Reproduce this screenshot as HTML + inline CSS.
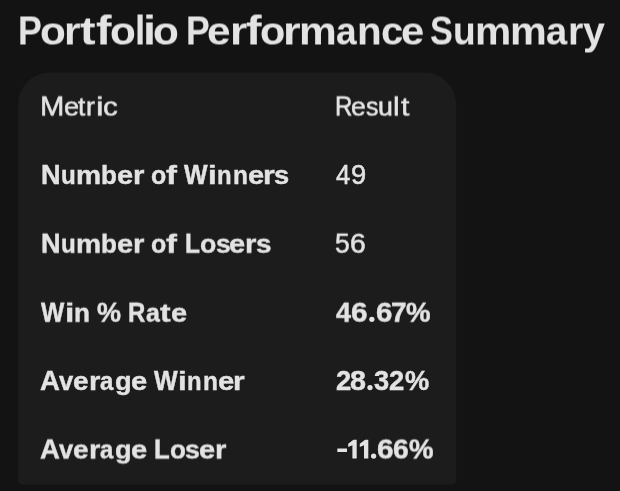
<!DOCTYPE html>
<html><head><meta charset="utf-8"><style>
html,body{margin:0;padding:0}
body{width:620px;height:491px;background:#131313;overflow:hidden;position:relative;font-family:"Liberation Sans",sans-serif;color:#e3e3e3}
.tbl{position:absolute;left:0;top:0}
.w{position:absolute;white-space:nowrap;line-height:1;color:#e3e3e3}
.L{position:absolute;left:0;top:0;width:620px;height:491px;will-change:transform}
.b{font-weight:bold}
</style></head><body>
<svg class="tbl" width="620" height="491" viewBox="0 0 620 491"><path d="M50.0,72.6 H424.2 A32,32 0 0 1 456.2,104.6 V479.6 A5,5 0 0 1 451.2,484.6 H23.0 A5,5 0 0 1 18.0,479.6 V104.6 A32,32 0 0 1 50.0,72.6 Z" fill="#1c1c1c"/>
<circle cx="371.85" cy="319.30" r="2.65" fill="#e3e3e3"/>
<circle cx="370.00" cy="387.55" r="2.65" fill="#e3e3e3"/>
<circle cx="373.60" cy="456.05" r="2.65" fill="#e3e3e3"/>
<rect x="337.3" y="448.45" width="9.7" height="3.6" rx="0.4" fill="#e3e3e3"/>
<polygon points="356.70,439.70 356.70,458.50 352.40,458.50 352.40,445.30 348.20,447.00 348.20,443.70 353.50,439.70" fill="#e3e3e3"/>
<polygon points="368.30,439.70 368.30,458.50 364.00,458.50 364.00,445.30 359.80,447.00 359.80,443.70 365.10,439.70" fill="#e3e3e3"/>
</svg>
<div class="L" style="transform:translateY(0.5px) rotate(0.0001deg)">
<div class="w b" style="left:18.31px;top:11px;font-size:39px;transform:translateY(0.3px) scale(0.917,1.030);transform-origin:0 33px">P</div>
<div class="w b" style="left:39.53px;top:11px;font-size:39px;transform:translateY(0.3px) scale(1.084,1.000);transform-origin:0 33px">o</div>
<div class="w b" style="left:64.23px;top:11px;font-size:39px;transform:translateY(0.3px) scale(1.087,1.000);transform-origin:0 33px">r</div>
<div class="w b" style="left:79.75px;top:11px;font-size:39px;transform:translateY(0.3px) scale(1.200,1.000);transform-origin:0 33px">t</div>
<div class="w b" style="left:95.80px;top:11px;font-size:39px;transform:translateY(0.3px) scale(1.196,1.030);transform-origin:0 33px">f</div>
<div class="w b" style="left:109.88px;top:11px;font-size:39px;transform:translateY(0.3px) scale(1.084,1.000);transform-origin:0 33px">o</div>
<div class="w b" style="left:134.79px;top:11px;font-size:39px;transform:translateY(0.3px) scale(0.943,1.030);transform-origin:0 33px">l</div>
<div class="w b" style="left:142.66px;top:11px;font-size:39px;transform:translateY(0.3px) scale(1.200,1.030);transform-origin:0 33px">i</div>
<div class="w b" style="left:152.53px;top:11px;font-size:39px;transform:translateY(0.3px) scale(1.084,1.000);transform-origin:0 33px">o</div>
<div class="w b" style="left:185.87px;top:11px;font-size:39px;transform:translateY(0.3px) scale(0.914,1.030);transform-origin:0 33px">P</div>
<div class="w b" style="left:207.31px;top:11px;font-size:39px;transform:translateY(0.3px) scale(1.087,1.000);transform-origin:0 33px">e</div>
<div class="w b" style="left:230.19px;top:11px;font-size:39px;transform:translateY(0.3px) scale(1.132,1.000);transform-origin:0 33px">r</div>
<div class="w b" style="left:246.26px;top:11px;font-size:39px;transform:translateY(0.3px) scale(1.200,1.030);transform-origin:0 33px">f</div>
<div class="w b" style="left:260.34px;top:11px;font-size:39px;transform:translateY(0.3px) scale(1.061,1.000);transform-origin:0 33px">o</div>
<div class="w b" style="left:283.29px;top:11px;font-size:39px;transform:translateY(0.3px) scale(1.159,1.000);transform-origin:0 33px">r</div>
<div class="w b" style="left:299.25px;top:11px;font-size:39px;transform:translateY(0.3px) scale(1.089,1.000);transform-origin:0 33px">m</div>
<div class="w b" style="left:335.66px;top:11px;font-size:39px;transform:translateY(0.3px) scale(0.953,1.000);transform-origin:0 33px">a</div>
<div class="w b" style="left:357.05px;top:11px;font-size:39px;transform:translateY(0.3px) scale(1.036,1.000);transform-origin:0 33px">n</div>
<div class="w b" style="left:380.83px;top:11px;font-size:39px;transform:translateY(0.3px) scale(1.026,1.000);transform-origin:0 33px">c</div>
<div class="w b" style="left:400.50px;top:11px;font-size:39px;transform:translateY(0.3px) scale(1.070,1.000);transform-origin:0 33px">e</div>
<div class="w b" style="left:429.94px;top:11px;font-size:39px;transform:translateY(0.3px) scale(0.879,1.030);transform-origin:0 33px">S</div>
<div class="w b" style="left:453.20px;top:11px;font-size:39px;transform:translateY(0.3px) scale(0.953,1.000);transform-origin:0 33px">u</div>
<div class="w b" style="left:474.53px;top:11px;font-size:39px;transform:translateY(0.3px) scale(1.044,1.000);transform-origin:0 33px">m</div>
<div class="w b" style="left:510.29px;top:11px;font-size:39px;transform:translateY(0.3px) scale(1.061,1.000);transform-origin:0 33px">m</div>
<div class="w b" style="left:545.92px;top:11px;font-size:39px;transform:translateY(0.3px) scale(0.977,1.000);transform-origin:0 33px">a</div>
<div class="w b" style="left:568.35px;top:11px;font-size:39px;transform:translateY(0.3px) scale(1.008,1.000);transform-origin:0 33px">r</div>
<div class="w b" style="left:582.68px;top:11px;font-size:39px;transform:translateY(0.3px) scale(1.010,1.000);transform-origin:0 33px">y</div>
</div>
<div class="L" style="transform:translateY(-0.5px) rotate(0.0001deg)">
<div class="w" style="left:39.80px;top:94px;font-size:26px;-webkit-text-stroke:0.5px #e3e3e3;transform:translateY(0px) scale(1.124,1.055);transform-origin:0 22px">M</div>
<div class="w" style="left:63.85px;top:94px;font-size:26px;-webkit-text-stroke:0.5px #e3e3e3;transform:translateY(0px) scale(1.042,1.000);transform-origin:0 22px">e</div>
<div class="w" style="left:78.12px;top:94px;font-size:26px;-webkit-text-stroke:0.5px #e3e3e3;transform:translateY(0px) scale(1.005,1.000);transform-origin:0 22px">t</div>
<div class="w" style="left:86.25px;top:94px;font-size:26px;-webkit-text-stroke:0.5px #e3e3e3;transform:translateY(0px) scale(1.026,1.000);transform-origin:0 22px">r</div>
<div class="w" style="left:95.91px;top:94px;font-size:26px;-webkit-text-stroke:0.5px #e3e3e3;transform:translateY(0px) scale(1.300,1.000);transform-origin:0 22px">i</div>
<div class="w" style="left:103.24px;top:94px;font-size:26px;-webkit-text-stroke:0.5px #e3e3e3;transform:translateY(0px) scale(1.137,1.000);transform-origin:0 22px">c</div>
<div class="w" style="left:335.37px;top:94px;font-size:26px;-webkit-text-stroke:0.5px #e3e3e3;transform:translateY(0px) scale(0.925,1.055);transform-origin:0 22px">R</div>
<div class="w" style="left:350.94px;top:94px;font-size:26px;-webkit-text-stroke:0.5px #e3e3e3;transform:translateY(0px) scale(1.019,1.000);transform-origin:0 22px">e</div>
<div class="w" style="left:366.03px;top:94px;font-size:26px;-webkit-text-stroke:0.5px #e3e3e3;transform:translateY(0px) scale(0.953,1.000);transform-origin:0 22px">s</div>
<div class="w" style="left:377.75px;top:94px;font-size:26px;-webkit-text-stroke:0.5px #e3e3e3;transform:translateY(0px) scale(1.029,1.000);transform-origin:0 22px">u</div>
<div class="w" style="left:393.38px;top:94px;font-size:26px;-webkit-text-stroke:0.5px #e3e3e3;transform:translateY(0px) scale(1.156,1.000);transform-origin:0 22px">l</div>
<div class="w" style="left:400.53px;top:94px;font-size:26px;-webkit-text-stroke:0.5px #e3e3e3;transform:translateY(0px) scale(1.155,1.000);transform-origin:0 22px">t</div>
</div>
<div class="L">
<div class="w b" style="left:40.62px;top:162px;font-size:26px;-webkit-text-stroke:0.4px #e3e3e3;transform:translateY(0px) scale(1.044,1.055);transform-origin:0 22px">N</div>
<div class="w b" style="left:60.81px;top:162px;font-size:26px;-webkit-text-stroke:0.4px #e3e3e3;transform:translateY(0px) scale(0.929,1.000);transform-origin:0 22px">u</div>
<div class="w b" style="left:76.39px;top:162px;font-size:26px;-webkit-text-stroke:0.4px #e3e3e3;transform:translateY(0px) scale(1.086,1.000);transform-origin:0 22px">m</div>
<div class="w b" style="left:101.30px;top:162px;font-size:26px;-webkit-text-stroke:0.4px #e3e3e3;transform:translateY(0px) scale(1.003,1.000);transform-origin:0 22px">b</div>
<div class="w b" style="left:117.43px;top:162px;font-size:26px;-webkit-text-stroke:0.4px #e3e3e3;transform:translateY(0px) scale(1.116,1.000);transform-origin:0 22px">e</div>
<div class="w b" style="left:133.09px;top:162px;font-size:26px;-webkit-text-stroke:0.4px #e3e3e3;transform:translateY(0px) scale(1.127,1.000);transform-origin:0 22px">r</div>
<div class="w b" style="left:150.56px;top:162px;font-size:26px;-webkit-text-stroke:0.4px #e3e3e3;transform:translateY(0px) scale(0.960,1.000);transform-origin:0 22px">o</div>
<div class="w b" style="left:165.87px;top:162px;font-size:26px;-webkit-text-stroke:0.4px #e3e3e3;transform:translateY(0px) scale(1.262,1.000);transform-origin:0 22px">f</div>
<div class="w b" style="left:183.85px;top:162px;font-size:26px;-webkit-text-stroke:0.4px #e3e3e3;transform:translateY(0px) scale(0.960,1.055);transform-origin:0 22px">W</div>
<div class="w b" style="left:208.07px;top:162px;font-size:26px;-webkit-text-stroke:0.4px #e3e3e3;transform:translateY(0px) scale(1.207,1.000);transform-origin:0 22px">i</div>
<div class="w b" style="left:216.61px;top:162px;font-size:26px;-webkit-text-stroke:0.4px #e3e3e3;transform:translateY(0px) scale(0.919,1.000);transform-origin:0 22px">n</div>
<div class="w b" style="left:232.67px;top:162px;font-size:26px;-webkit-text-stroke:0.4px #e3e3e3;transform:translateY(0px) scale(0.942,1.000);transform-origin:0 22px">n</div>
<div class="w b" style="left:247.61px;top:162px;font-size:26px;-webkit-text-stroke:0.4px #e3e3e3;transform:translateY(0px) scale(1.117,1.000);transform-origin:0 22px">e</div>
<div class="w b" style="left:263.08px;top:162px;font-size:26px;-webkit-text-stroke:0.4px #e3e3e3;transform:translateY(0px) scale(1.162,1.000);transform-origin:0 22px">r</div>
<div class="w b" style="left:274.49px;top:162px;font-size:26px;-webkit-text-stroke:0.4px #e3e3e3;transform:translateY(0px) scale(1.053,1.000);transform-origin:0 22px">s</div>
<div class="w" style="left:336.26px;top:162px;font-size:26px;-webkit-text-stroke:0.5px #e3e3e3;transform:translateY(0px) scale(0.989,1.055);transform-origin:0 22px">4</div>
<div class="w" style="left:351.01px;top:162px;font-size:26px;-webkit-text-stroke:0.5px #e3e3e3;transform:translateY(0px) scale(1.051,1.055);transform-origin:0 22px">9</div>
</div>
<div class="L" style="transform:translateY(-0.25px) rotate(0.0001deg)">
<div class="w b" style="left:40.62px;top:231px;font-size:26px;-webkit-text-stroke:0.4px #e3e3e3;transform:translateY(0px) scale(1.044,1.055);transform-origin:0 22px">N</div>
<div class="w b" style="left:60.81px;top:231px;font-size:26px;-webkit-text-stroke:0.4px #e3e3e3;transform:translateY(0px) scale(0.929,1.000);transform-origin:0 22px">u</div>
<div class="w b" style="left:76.39px;top:231px;font-size:26px;-webkit-text-stroke:0.4px #e3e3e3;transform:translateY(0px) scale(1.086,1.000);transform-origin:0 22px">m</div>
<div class="w b" style="left:101.30px;top:231px;font-size:26px;-webkit-text-stroke:0.4px #e3e3e3;transform:translateY(0px) scale(1.003,1.000);transform-origin:0 22px">b</div>
<div class="w b" style="left:117.43px;top:231px;font-size:26px;-webkit-text-stroke:0.4px #e3e3e3;transform:translateY(0px) scale(1.116,1.000);transform-origin:0 22px">e</div>
<div class="w b" style="left:133.09px;top:231px;font-size:26px;-webkit-text-stroke:0.4px #e3e3e3;transform:translateY(0px) scale(1.127,1.000);transform-origin:0 22px">r</div>
<div class="w b" style="left:150.56px;top:231px;font-size:26px;-webkit-text-stroke:0.4px #e3e3e3;transform:translateY(0px) scale(0.960,1.000);transform-origin:0 22px">o</div>
<div class="w b" style="left:165.87px;top:231px;font-size:26px;-webkit-text-stroke:0.4px #e3e3e3;transform:translateY(0px) scale(1.262,1.000);transform-origin:0 22px">f</div>
<div class="w b" style="left:185.30px;top:231px;font-size:26px;-webkit-text-stroke:0.4px #e3e3e3;transform:translateY(0px) scale(0.939,1.055);transform-origin:0 22px">L</div>
<div class="w b" style="left:199.61px;top:231px;font-size:26px;-webkit-text-stroke:0.4px #e3e3e3;transform:translateY(0px) scale(1.026,1.000);transform-origin:0 22px">o</div>
<div class="w b" style="left:215.95px;top:231px;font-size:26px;-webkit-text-stroke:0.4px #e3e3e3;transform:translateY(0px) scale(1.021,1.000);transform-origin:0 22px">s</div>
<div class="w b" style="left:229.01px;top:231px;font-size:26px;-webkit-text-stroke:0.4px #e3e3e3;transform:translateY(0px) scale(1.117,1.000);transform-origin:0 22px">e</div>
<div class="w b" style="left:245.32px;top:231px;font-size:26px;-webkit-text-stroke:0.4px #e3e3e3;transform:translateY(0px) scale(1.133,1.000);transform-origin:0 22px">r</div>
<div class="w b" style="left:255.94px;top:231px;font-size:26px;-webkit-text-stroke:0.4px #e3e3e3;transform:translateY(0px) scale(1.075,1.000);transform-origin:0 22px">s</div>
<div class="w" style="left:335.02px;top:231px;font-size:26px;-webkit-text-stroke:0.5px #e3e3e3;transform:translateY(0px) scale(1.017,1.055);transform-origin:0 22px">5</div>
<div class="w" style="left:350.19px;top:231px;font-size:26px;-webkit-text-stroke:0.5px #e3e3e3;transform:translateY(0px) scale(1.091,1.055);transform-origin:0 22px">6</div>
</div>
<div class="L" style="transform:translateY(-0.25px) rotate(0.0001deg)">
<div class="w b" style="left:41.48px;top:300px;font-size:26px;-webkit-text-stroke:0.4px #e3e3e3;transform:translateY(0px) scale(0.949,1.055);transform-origin:0 22px">W</div>
<div class="w b" style="left:64.69px;top:300px;font-size:26px;-webkit-text-stroke:0.4px #e3e3e3;transform:translateY(0px) scale(1.300,1.000);transform-origin:0 22px">i</div>
<div class="w b" style="left:73.65px;top:300px;font-size:26px;-webkit-text-stroke:0.4px #e3e3e3;transform:translateY(0px) scale(1.006,1.000);transform-origin:0 22px">n</div>
<div class="w b" style="left:96.74px;top:300px;font-size:26px;-webkit-text-stroke:0.4px #e3e3e3;transform:translateY(0px) scale(1.038,1.055);transform-origin:0 22px">%</div>
<div class="w b" style="left:127.55px;top:300px;font-size:26px;-webkit-text-stroke:0.4px #e3e3e3;transform:translateY(0px) scale(0.923,1.055);transform-origin:0 22px">R</div>
<div class="w b" style="left:145.64px;top:300px;font-size:26px;-webkit-text-stroke:0.4px #e3e3e3;transform:translateY(0px) scale(0.958,1.000);transform-origin:0 22px">a</div>
<div class="w b" style="left:160.35px;top:300px;font-size:26px;-webkit-text-stroke:0.4px #e3e3e3;transform:translateY(0px) scale(1.224,1.000);transform-origin:0 22px">t</div>
<div class="w b" style="left:170.61px;top:300px;font-size:26px;-webkit-text-stroke:0.4px #e3e3e3;transform:translateY(0px) scale(1.117,1.000);transform-origin:0 22px">e</div>
<div class="w b" style="left:335.78px;top:300px;font-size:26px;-webkit-text-stroke:0.4px #e3e3e3;transform:translateY(0px) scale(1.039,1.055);transform-origin:0 22px">4</div>
<div class="w b" style="left:351.25px;top:300px;font-size:26px;-webkit-text-stroke:0.4px #e3e3e3;transform:translateY(0px) scale(1.144,1.055);transform-origin:0 22px">6</div>
<div class="w b" style="left:376.23px;top:300px;font-size:26px;-webkit-text-stroke:0.4px #e3e3e3;transform:translateY(0px) scale(1.132,1.055);transform-origin:0 22px">6</div>
<div class="w b" style="left:390.75px;top:300px;font-size:26px;-webkit-text-stroke:0.4px #e3e3e3;transform:translateY(0px) scale(1.076,1.055);transform-origin:0 22px">7</div>
<div class="w b" style="left:406.44px;top:300px;font-size:26px;-webkit-text-stroke:0.4px #e3e3e3;transform:translateY(0px) scale(1.062,1.055);transform-origin:0 22px">%</div>
</div>
<div class="L">
<div class="w b" style="left:40.32px;top:368px;font-size:26px;-webkit-text-stroke:0.4px #e3e3e3;transform:translateY(0px) scale(1.060,1.055);transform-origin:0 22px">A</div>
<div class="w b" style="left:58.80px;top:368px;font-size:26px;-webkit-text-stroke:0.4px #e3e3e3;transform:translateY(0px) scale(0.984,1.000);transform-origin:0 22px">v</div>
<div class="w b" style="left:73.32px;top:368px;font-size:26px;-webkit-text-stroke:0.4px #e3e3e3;transform:translateY(0px) scale(1.076,1.000);transform-origin:0 22px">e</div>
<div class="w b" style="left:88.85px;top:368px;font-size:26px;-webkit-text-stroke:0.4px #e3e3e3;transform:translateY(0px) scale(1.126,1.000);transform-origin:0 22px">r</div>
<div class="w b" style="left:99.61px;top:368px;font-size:26px;-webkit-text-stroke:0.4px #e3e3e3;transform:translateY(0px) scale(0.922,1.000);transform-origin:0 22px">a</div>
<div class="w b" style="left:114.69px;top:368px;font-size:26px;-webkit-text-stroke:0.4px #e3e3e3;transform:translateY(0px) scale(1.048,1.000);transform-origin:0 22px">g</div>
<div class="w b" style="left:130.54px;top:368px;font-size:26px;-webkit-text-stroke:0.4px #e3e3e3;transform:translateY(0px) scale(1.121,1.000);transform-origin:0 22px">e</div>
<div class="w b" style="left:153.52px;top:368px;font-size:26px;-webkit-text-stroke:0.4px #e3e3e3;transform:translateY(0px) scale(0.964,1.055);transform-origin:0 22px">W</div>
<div class="w b" style="left:178.07px;top:368px;font-size:26px;-webkit-text-stroke:0.4px #e3e3e3;transform:translateY(0px) scale(1.207,1.000);transform-origin:0 22px">i</div>
<div class="w b" style="left:186.61px;top:368px;font-size:26px;-webkit-text-stroke:0.4px #e3e3e3;transform:translateY(0px) scale(0.919,1.000);transform-origin:0 22px">n</div>
<div class="w b" style="left:203.07px;top:368px;font-size:26px;-webkit-text-stroke:0.4px #e3e3e3;transform:translateY(0px) scale(0.942,1.000);transform-origin:0 22px">n</div>
<div class="w b" style="left:217.72px;top:368px;font-size:26px;-webkit-text-stroke:0.4px #e3e3e3;transform:translateY(0px) scale(1.125,1.000);transform-origin:0 22px">e</div>
<div class="w b" style="left:233.19px;top:368px;font-size:26px;-webkit-text-stroke:0.4px #e3e3e3;transform:translateY(0px) scale(1.148,1.000);transform-origin:0 22px">r</div>
<div class="w b" style="left:335.53px;top:368px;font-size:26px;-webkit-text-stroke:0.4px #e3e3e3;transform:translateY(0px) scale(1.054,1.055);transform-origin:0 22px">2</div>
<div class="w b" style="left:350.47px;top:368px;font-size:26px;-webkit-text-stroke:0.4px #e3e3e3;transform:translateY(0px) scale(1.105,1.055);transform-origin:0 22px">8</div>
<div class="w b" style="left:374.10px;top:368px;font-size:26px;-webkit-text-stroke:0.4px #e3e3e3;transform:translateY(0px) scale(1.047,1.055);transform-origin:0 22px">3</div>
<div class="w b" style="left:389.00px;top:368px;font-size:26px;-webkit-text-stroke:0.4px #e3e3e3;transform:translateY(0px) scale(1.056,1.055);transform-origin:0 22px">2</div>
<div class="w b" style="left:404.99px;top:368px;font-size:26px;-webkit-text-stroke:0.4px #e3e3e3;transform:translateY(0px) scale(1.047,1.055);transform-origin:0 22px">%</div>
</div>
<div class="L" style="transform:translateY(-0.5px) rotate(0.0001deg)">
<div class="w b" style="left:40.32px;top:437px;font-size:26px;-webkit-text-stroke:0.4px #e3e3e3;transform:translateY(0px) scale(1.060,1.055);transform-origin:0 22px">A</div>
<div class="w b" style="left:58.80px;top:437px;font-size:26px;-webkit-text-stroke:0.4px #e3e3e3;transform:translateY(0px) scale(0.984,1.000);transform-origin:0 22px">v</div>
<div class="w b" style="left:73.32px;top:437px;font-size:26px;-webkit-text-stroke:0.4px #e3e3e3;transform:translateY(0px) scale(1.076,1.000);transform-origin:0 22px">e</div>
<div class="w b" style="left:88.85px;top:437px;font-size:26px;-webkit-text-stroke:0.4px #e3e3e3;transform:translateY(0px) scale(1.126,1.000);transform-origin:0 22px">r</div>
<div class="w b" style="left:99.61px;top:437px;font-size:26px;-webkit-text-stroke:0.4px #e3e3e3;transform:translateY(0px) scale(0.922,1.000);transform-origin:0 22px">a</div>
<div class="w b" style="left:114.69px;top:437px;font-size:26px;-webkit-text-stroke:0.4px #e3e3e3;transform:translateY(0px) scale(1.048,1.000);transform-origin:0 22px">g</div>
<div class="w b" style="left:130.54px;top:437px;font-size:26px;-webkit-text-stroke:0.4px #e3e3e3;transform:translateY(0px) scale(1.121,1.000);transform-origin:0 22px">e</div>
<div class="w b" style="left:154.13px;top:437px;font-size:26px;-webkit-text-stroke:0.4px #e3e3e3;transform:translateY(0px) scale(0.990,1.055);transform-origin:0 22px">L</div>
<div class="w b" style="left:169.51px;top:437px;font-size:26px;-webkit-text-stroke:0.4px #e3e3e3;transform:translateY(0px) scale(1.002,1.000);transform-origin:0 22px">o</div>
<div class="w b" style="left:185.30px;top:437px;font-size:26px;-webkit-text-stroke:0.4px #e3e3e3;transform:translateY(0px) scale(1.027,1.000);transform-origin:0 22px">s</div>
<div class="w b" style="left:198.83px;top:437px;font-size:26px;-webkit-text-stroke:0.4px #e3e3e3;transform:translateY(0px) scale(1.116,1.000);transform-origin:0 22px">e</div>
<div class="w b" style="left:214.74px;top:437px;font-size:26px;-webkit-text-stroke:0.4px #e3e3e3;transform:translateY(0px) scale(1.127,1.000);transform-origin:0 22px">r</div>
<div class="w b" style="left:377.28px;top:437px;font-size:26px;-webkit-text-stroke:0.4px #e3e3e3;transform:translateY(0px) scale(1.145,1.055);transform-origin:0 22px">6</div>
<div class="w b" style="left:393.48px;top:437px;font-size:26px;-webkit-text-stroke:0.4px #e3e3e3;transform:translateY(0px) scale(1.088,1.055);transform-origin:0 22px">6</div>
<div class="w b" style="left:409.04px;top:437px;font-size:26px;-webkit-text-stroke:0.4px #e3e3e3;transform:translateY(0px) scale(1.062,1.055);transform-origin:0 22px">%</div>
</div>
</body></html>
